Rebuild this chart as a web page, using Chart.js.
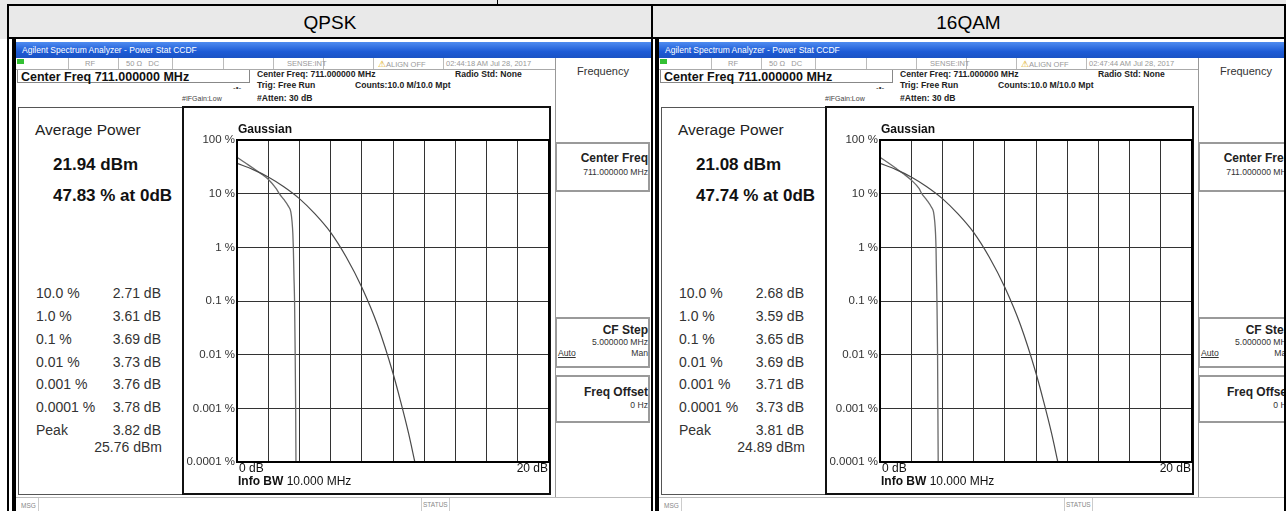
<!DOCTYPE html>
<html>
<head>
<meta charset="utf-8">
<script src="https://cdn.jsdelivr.net/npm/chart.js@4.4.1/dist/chart.umd.min.js"></script>
<style>
  body { margin: 0; background: #fff; font-family: "Liberation Sans", Arial, sans-serif; }
  #page { position: relative; width: 1286px; height: 511px; overflow: hidden; background: #fff; }
  .abs { position: absolute; box-sizing: border-box; }
  .t { position: absolute; line-height: 16px; white-space: nowrap; }
  .shot { position: absolute; top: 39px; height: 472px; overflow: hidden; background: #fff; }
</style>
</head>
<body>
<div id="page">
  <div class="abs" style="left:0;top:0;width:1286px;height:39px;background:#e9e9e9"></div>
  <div class="abs" style="left:7px;top:4px;width:1279px;height:2px;background:#000"></div>
  <div class="abs" style="left:7px;top:37px;width:1279px;height:2px;background:#000"></div>
  <div class="abs" style="left:7px;top:4px;width:2px;height:507px;background:#000"></div>
  <div class="abs" style="left:651px;top:4px;width:2px;height:507px;background:#000"></div>
  <div class="abs" style="left:1284px;top:4px;width:2px;height:507px;background:#000"></div>
  <div class="abs" style="left:497px;top:0;width:1px;height:4px;background:#000"></div>
  <div id="titleL" class="t" style="left:9px;width:642px;top:13px;text-align:center;font-size:19px;line-height:20px"></div>
  <div id="titleR" class="t" style="left:653px;width:631px;top:13px;text-align:center;font-size:19px;line-height:20px"></div>
  <div id="shotL" class="shot" style="left:12px;width:639px"></div>
  <div id="shotR" class="shot" style="left:655px;width:629px"></div>
</div>
<script>
// column titles and instrument read-outs
const columnTitles = ['QPSK', '16QAM'];
const timeStamps = ['02:44:18 AM Jul 28, 2017', '02:47:44 AM Jul 28, 2017'];
const avgPower = [21.94, 21.08];          // dBm
const probAtZero = [47.83, 47.74];        // % at 0dB
const probLabels = ['10.0 %', '1.0 %', '0.1 %', '0.01 %', '0.001 %', '0.0001 %', 'Peak'];
const qpskStats = [2.71, 3.61, 3.69, 3.73, 3.76, 3.78, 3.82];   // dB
const qamStats = [2.68, 3.59, 3.65, 3.69, 3.71, 3.73, 3.81];    // dB
const peakPower = [25.76, 24.89];         // dBm

// CCDF curves (x in dB, y in %)
const gaussX = [0, 1, 2, 3, 4, 5, 6, 7, 8, 9, 10, 10.5, 11, 11.4];
const gaussY = [36.8, 28.4, 20.5, 13.5, 8.1, 4.2, 1.9, 0.66, 0.18, 0.036, 0.0045, 0.0013, 0.00034, 0.0001];
const qpskX = [0, 0.5, 1.0, 1.5, 2.0, 2.5, 2.71, 3.0, 3.3, 3.45, 3.53, 3.58, 3.61, 3.65, 3.69, 3.73, 3.76, 3.78];
const qpskY = [47.83, 38, 30.5, 24, 18.5, 12.5, 10, 7.8, 5.8, 4.6, 3, 1.8, 1.0, 0.3, 0.1, 0.01, 0.001, 0.0001];
const qamX = [0, 0.5, 1.0, 1.5, 2.0, 2.5, 2.68, 3.0, 3.3, 3.43, 3.51, 3.56, 3.59, 3.62, 3.65, 3.69, 3.71, 3.73];
const qamY = [47.74, 38, 30, 23.5, 18, 12.5, 10, 7.6, 5.6, 4.6, 3, 1.8, 1.0, 0.3, 0.1, 0.01, 0.001, 0.0001];

// axes
const yTickValues = [0.0001, 0.001, 0.01, 0.1, 1, 10, 100];
const yTickLabels = ['0.0001 %', '0.001 %', '0.01 %', '0.1 %', '1 %', '10 %', '100 %'];
const xTickLabels = ['0 dB', '20 dB'];
const xRange = [0, 20];

const FONT = '"Liberation Sans", Arial, sans-serif';

function txt(x, y, s, css, align) {
  let pos = `left:${x}px;`;
  if (align === 'right') pos = `left:${x - 300}px;width:300px;text-align:right;`;
  if (align === 'center') pos = `left:${x - 150}px;width:300px;text-align:center;`;
  return `<div class="t" style="${pos}top:${y - 8}px;${css || ''}">${s}</div>`;
}
function box(x, y, w, h, css) {
  return `<div class="abs" style="left:${x}px;top:${y}px;width:${w}px;height:${h}px;${css || ''}"></div>`;
}

function buildShot(el, i, stats, sigX, sigY) {
  let h = '';
  h += box(0, 0, 4, 472, 'background:#000');
  h += box(4, 3, 640, 16, 'background:linear-gradient(#4f8cf0,#1d5bd6 60%,#1a52c4)');
  h += txt(10, 11, 'Agilent Spectrum Analyzer - Power Stat CCDF', 'color:#fff;font-size:8.5px');

  // status strip
  h += box(4, 19, 539, 12, 'border-bottom:1px solid #aaa');
  h += box(5, 20, 7, 5, 'background:#33c033');
  [56, 106, 160, 211, 261, 311, 361, 431].forEach(x => { h += box(x, 19, 1, 11, 'background:#bbb'); });
  const sc = 'color:#999;font-size:7.5px';
  h += txt(73, 24.5, 'RF', sc);
  h += txt(114, 24.5, '50 &Omega;&nbsp;&nbsp; DC', sc);
  h += txt(275, 24.5, 'SENSE:INT', sc);
  h += txt(366, 24.5, '<span style="color:#d9a400;font-size:9px">&#9888;</span>ALIGN OFF', sc);
  h += txt(434, 24.5, timeStamps[i], sc);

  // header readouts
  h += box(5, 31, 233, 13, 'border:1px solid #888;border-top:none');
  h += txt(9, 38, 'Center Freq 711.000000 MHz', 'font-weight:bold;font-size:12.5px;color:#111');
  const hb = 'font-weight:bold;font-size:8.6px;color:#222';
  h += txt(245, 35, 'Center Freq: 711.000000 MHz', hb);
  h += txt(443, 35, 'Radio Std: None', hb);
  h += txt(245, 46, 'Trig: Free Run', hb);
  h += txt(343, 46, 'Counts:10.0 M/10.0 Mpt', hb);
  h += txt(245, 59, '#Atten: 30 dB', hb);
  h += txt(170, 60, '#IFGain:Low', 'font-size:7px;color:#444');
  h += txt(221, 49, '-&bull;-', 'font-size:8px;color:#333');

  // softkeys
  h += box(543, 19, 96, 440, 'border-left:1px solid #999;border-bottom:1px solid #999');
  const kb = 'border:2px solid #9a9a9a;box-shadow:inset 1px 1px 0 #fff';
  h += box(543, 103, 95, 50, kb);
  h += box(543, 278, 95, 51, kb);
  h += box(543, 336, 95, 48, kb);
  h += txt(591, 32, 'Frequency', 'font-size:11px;color:#333', 'center');
  const kt = 'font-weight:bold;font-size:12px;color:#222';
  const ks = 'font-size:8.6px;color:#333';
  h += txt(636, 119, 'Center Freq', kt, 'right');
  h += txt(636, 133, '711.000000 MHz', ks, 'right');
  h += txt(636, 291, 'CF Step', kt, 'right');
  h += txt(636, 303, '5.000000 MHz', ks, 'right');
  h += txt(546, 314, 'Auto', ks + ';text-decoration:underline');
  h += txt(636, 314, 'Man', ks, 'right');
  h += txt(636, 353, 'Freq Offset', kt, 'right');
  h += txt(636, 366, '0 Hz', ks, 'right');

  // left read-out panel
  h += box(6, 68, 166, 388, 'border:1px solid #555');
  h += txt(23, 91, 'Average Power', 'font-size:15.5px;color:#222');
  h += txt(41, 126, avgPower[i].toFixed(2) + ' dBm', 'font-weight:bold;font-size:17px;color:#111');
  h += txt(41, 157, probAtZero[i].toFixed(2) + ' % at 0dB', 'font-weight:bold;font-size:17px;color:#111');
  const rowY = [254, 277, 300, 323, 345, 368, 391];
  const rc = 'font-size:14px;color:#333';
  probLabels.forEach((lab, k) => {
    h += txt(24, rowY[k], lab, rc);
    h += txt(149, rowY[k], stats[k].toFixed(2) + ' dB', rc, 'right');
  });
  h += txt(150, 408, peakPower[i].toFixed(2) + ' dBm', rc, 'right');

  // plot frame + canvas
  h += box(170, 67, 369, 389, 'border:2px solid #111');
  h += `<canvas width="366" height="385" style="position:absolute;left:172px;top:69px"></canvas>`;

  // message bar
  h += box(4, 458, 635, 14, 'border-top:1px solid #bbb');
  h += box(26, 459, 1, 13, 'background:#ccc');
  h += txt(9, 467, 'MSG', 'font-size:6.5px;color:#888');
  h += box(409, 459, 29, 13, 'border-left:1px solid #ccc;border-right:1px solid #ccc');
  h += txt(411, 466, 'STATUS', 'font-size:6.5px;color:#888');

  el.innerHTML = h;
  makeChart(el.querySelector('canvas'), sigX, sigY);
}

const frameText = {
  id: 'frameText',
  afterDraw(chart) {
    const { ctx, chartArea: a, scales: { x } } = chart;
    ctx.save();
    ctx.strokeStyle = '#000';
    ctx.lineWidth = 2;
    ctx.strokeRect(a.left, a.top, a.right - a.left, a.bottom - a.top);
    ctx.fillStyle = '#111';
    ctx.textBaseline = 'middle';
    ctx.textAlign = 'left';
    ctx.font = 'bold 12px ' + FONT;
    ctx.fillText('Gaussian', a.left + 1, a.top - 10);
    ctx.font = '12px ' + FONT;
    ctx.fillText(xTickLabels[0], x.getPixelForValue(xRange[0]) + 2, a.bottom + 7);
    ctx.textAlign = 'right';
    ctx.fillText(xTickLabels[1], x.getPixelForValue(xRange[1]) - 1, a.bottom + 7);
    ctx.textAlign = 'left';
    ctx.font = 'bold 12px ' + FONT;
    ctx.fillText('Info BW', a.left + 1, a.bottom + 20);
    const w = ctx.measureText('Info BW').width;
    ctx.font = '12px ' + FONT;
    ctx.fillText(' 10.000 MHz', a.left + 1 + w, a.bottom + 20);
    ctx.restore();
  }
};

function makeChart(canvas, sigX, sigY) {
  const pts = (xs, ys) => xs.map((v, k) => ({ x: v, y: ys[k] }));
  new Chart(canvas.getContext('2d'), {
    type: 'scatter',
    data: {
      datasets: [
        {
          label: 'Gaussian',
          data: pts(gaussX, gaussY),
          showLine: true,
          borderColor: '#4a4a4a',
          borderWidth: 1.2,
          pointRadius: 0,
          cubicInterpolationMode: 'monotone',
        },
        {
          label: 'Signal',
          data: pts(sigX, sigY),
          showLine: true,
          borderColor: '#6a6a6a',
          borderWidth: 1.3,
          pointRadius: 0,
          cubicInterpolationMode: 'monotone',
        },
      ],
    },
    options: {
      responsive: false,
      animation: false,
      devicePixelRatio: 1,
      layout: { padding: { top: 32, right: 1, bottom: 0, left: 0 } },
      plugins: { legend: { display: false }, tooltip: { enabled: false } },
      scales: {
        x: {
          type: 'linear',
          min: xRange[0],
          max: xRange[1],
          ticks: { stepSize: 2, display: false },
          grid: { color: '#333', lineWidth: 1, drawTicks: false },
          border: { display: false },
          afterFit: (s) => { s.height = 31; },
        },
        y: {
          type: 'logarithmic',
          min: yTickValues[0],
          max: yTickValues[yTickValues.length - 1],
          afterBuildTicks: (s) => { s.ticks = yTickValues.map(v => ({ value: v })); },
          ticks: {
            padding: 2,
            color: '#333',
            font: { family: FONT, size: 11.5 },
            callback: (v, idx) => yTickLabels[idx],
          },
          grid: { color: '#333', lineWidth: 1, drawTicks: false },
          border: { display: false },
          afterFit: (s) => { s.width = 53; },
        },
      },
    },
    plugins: [frameText],
  });
}

document.getElementById('titleL').textContent = columnTitles[0];
document.getElementById('titleR').textContent = columnTitles[1];
buildShot(document.getElementById('shotL'), 0, qpskStats, qpskX, qpskY);
buildShot(document.getElementById('shotR'), 1, qamStats, qamX, qamY);
</script>
</body>
</html>
